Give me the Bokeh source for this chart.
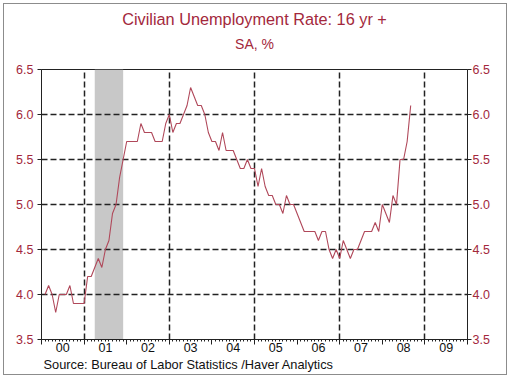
from bokeh.plotting import figure
from bokeh.models import (Range1d, LinearAxis, FixedTicker, BoxAnnotation, Title,
                          Grid, PrintfTickFormatter)
from bokeh.embed import file_html
from bokeh.resources import INLINE

# ---- data (monthly, %) ----
years = [2000, 2001, 2002, 2003, 2004, 2005, 2006, 2007, 2008]
rate_2000 = [4.0, 4.1, 4.0, 3.8, 4.0, 4.0, 4.0, 4.1, 3.9, 3.9, 3.9, 3.9]
rate_2001 = [4.2, 4.2, 4.3, 4.4, 4.3, 4.5, 4.6, 4.9, 5.0, 5.3, 5.5, 5.7]
rate_2002 = [5.7, 5.7, 5.7, 5.9, 5.8, 5.8, 5.8, 5.7, 5.7, 5.7, 5.9, 6.0]
rate_2003 = [5.8, 5.9, 5.9, 6.0, 6.1, 6.3, 6.2, 6.1, 6.1, 6.0, 5.8, 5.7]
rate_2004 = [5.7, 5.6, 5.8, 5.6, 5.6, 5.6, 5.5, 5.4, 5.4, 5.5, 5.4, 5.4]
rate_2005 = [5.2, 5.4, 5.2, 5.1, 5.1, 5.0, 5.0, 4.9, 5.1, 5.0, 5.0, 4.9]
rate_2006 = [4.8, 4.7, 4.7, 4.7, 4.7, 4.6, 4.7, 4.7, 4.5, 4.4, 4.5, 4.4]
rate_2007 = [4.6, 4.5, 4.4, 4.5, 4.5, 4.6, 4.7, 4.7, 4.7, 4.8, 4.7, 5.0]
rate_2008 = [4.9, 4.8, 5.1, 5.0, 5.5, 5.5, 5.7, 6.1]
series = [rate_2000, rate_2001, rate_2002, rate_2003, rate_2004,
          rate_2005, rate_2006, rate_2007, rate_2008]

year_labels = ["00", "01", "02", "03", "04", "05", "06", "07", "08", "09"]
label_years = [2000, 2001, 2002, 2003, 2004, 2005, 2006, 2007, 2008, 2009]
recession_start = 2001.25
recession_end = 2001.917
y_ticks = [3.5, 4.0, 4.5, 5.0, 5.5, 6.0, 6.5]
y_grid = [4.0, 4.5, 5.0, 5.5, 6.0]
x_grid = [2001, 2003, 2005, 2007, 2009]

title_text = "Civilian Unemployment Rate: 16 yr +"
subtitle_text = "SA, %"
source_text = "Source:  Bureau of Labor Statistics /Haver Analytics"

# ---- build ----
xs, ys = [], []
for yr, vals in zip(years, series):
    for m, v in enumerate(vals):
        xs.append(yr + (m + 1) / 12.0)
        ys.append(v)

FONT = "Liberation Sans"
RED = "#A3283C"
DARK = "#222222"

p = figure(width=510, height=378, x_range=Range1d(2000, 2010), y_range=Range1d(3.5, 6.5),
           output_backend="svg", toolbar_location=None, x_axis_type=None, y_axis_type=None,
           title=None,
           min_border_left=41, min_border_right=43, min_border_top=69, min_border_bottom=39)
p.background_fill_color = "white"
p.border_fill_color = None
p.outline_line_color = DARK
p.outline_line_width = 1
p.styles = {"background-color": "white",
            "box-shadow": "inset 0 0 0 3px white, inset 0 0 0 4px #8c8c8c"}

# recession shading
p.add_layout(BoxAnnotation(left=recession_start, right=recession_end, fill_color="#c8c8c8",
                           fill_alpha=1.0, line_color=None, level="image"))

# grids
p.add_layout(Grid(dimension=0, ticker=FixedTicker(ticks=x_grid), grid_line_color=DARK,
                  grid_line_dash="6 3", grid_line_width=1.5))
p.add_layout(Grid(dimension=1, ticker=FixedTicker(ticks=y_grid), grid_line_color=DARK,
                  grid_line_dash="6 3", grid_line_width=1.5))

# y axes
for side, standoff in (("left", 4), ("right", 1)):
    ax = LinearAxis(ticker=FixedTicker(ticks=y_ticks), formatter=PrintfTickFormatter(format="%.1f"))
    ax.major_label_text_font = FONT
    ax.major_label_text_font_size = "12.5px"
    ax.major_label_text_color = RED
    ax.major_tick_out = 4
    ax.major_tick_in = 0
    ax.minor_tick_line_color = None
    ax.major_label_standoff = standoff
    ax.axis_line_color = DARK
    ax.major_tick_line_color = DARK
    p.add_layout(ax, side)

# x axis 1: year-boundary ticks + monthly minor ticks (no labels)
minor = [2000 + i / 12.0 for i in range(121)]
year_edges = [float(t) for t in range(2000, 2011)]
xax = LinearAxis(ticker=FixedTicker(ticks=year_edges, minor_ticks=minor))
xax.major_label_overrides = {t: "" for t in year_edges}
xax.major_label_text_font_size = "1px"
xax.major_label_standoff = 0
xax.major_tick_out = 5
xax.major_tick_in = 0
xax.minor_tick_out = 2
xax.minor_tick_in = 0
xax.axis_line_color = DARK
xax.major_tick_line_color = DARK
xax.minor_tick_line_color = DARK
p.add_layout(xax, "below")

# x axis 2: year labels centred in each year
mid = [y + 0.5 for y in label_years]
xlab = LinearAxis(ticker=FixedTicker(ticks=mid, minor_ticks=[]))
xlab.major_label_overrides = dict(zip(mid, year_labels))
xlab.axis_line_color = None
xlab.major_tick_line_color = None
xlab.minor_tick_line_color = None
xlab.major_tick_out = 0
xlab.major_tick_in = 0
xlab.major_label_standoff = -2
xlab.major_label_text_font = FONT
xlab.major_label_text_font_size = "12.5px"
xlab.major_label_text_color = "#111111"
p.add_layout(xlab, "below")

# data line
p.line(xs, ys, line_color="#B0485A", line_width=1.1)

# titles (spacer closest to the frame, then subtitle, then main title) and source
p.add_layout(Title(text=" ", text_font=FONT, text_font_size="1px", standoff=13), "above")
p.add_layout(Title(text=subtitle_text, align="center", text_font=FONT, text_font_size="14px",
                   text_font_style="normal", text_color=RED, standoff=4), "above")
p.add_layout(Title(text=title_text, align="center", text_font=FONT, text_font_size="16.3px",
                   text_font_style="normal", text_color=RED, standoff=8), "above")
p.add_layout(Title(text=source_text, align="left", offset=2, text_font=FONT,
                   text_font_size="12.8px", text_font_style="normal",
                   text_color="#111111", standoff=0), "below")

open("out.html", "w").write(file_html(p, INLINE))
